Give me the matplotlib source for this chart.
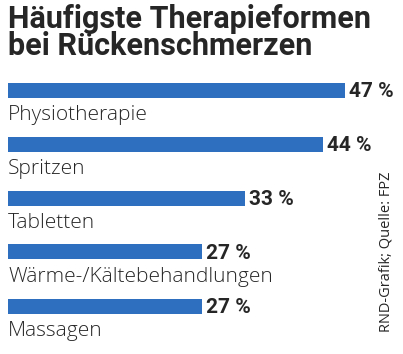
import matplotlib
matplotlib.use("Agg")
import matplotlib.pyplot as plt

categories = ["Physiotherapie", "Spritzen", "Tabletten", "Wärme-/Kältebehandlungen", "Massagen"]
values = [47, 44, 33, 27, 27]
value_labels = ["47 %", "44 %", "33 %", "27 %", "27 %"]
title_lines = ["Häufigste Therapieformen", "bei Rückenschmerzen"]
source = "RND-Grafik; Quelle: FPZ"

W, H = 403, 354
fig = plt.figure(figsize=(W / 100, H / 100), dpi=100)
fig.patch.set_facecolor("white")
ax = fig.add_axes([0, 0, 1, 1])
ax.axis("off")

pxu = 7.17  # pixels per percent
left_px = 8
ax.set_xlim(-left_px / pxu, (W - left_px) / pxu)
top_c, pitch = 90, 54
ax.set_ylim((H - top_c) / pitch, -top_c / pitch)

bar_color = "#2f6fc0"
text_color = "#262626"
ypos = list(range(len(categories)))
ax.barh(ypos, values, height=15 / pitch, color=bar_color, left=0)

for i, (c, v, lab) in enumerate(zip(categories, values, value_labels)):
    ax.text(0, i + 30 / pitch, c, ha="left", va="baseline", fontsize=15,
            family="Open Sans", fontweight="light", color=text_color)
    ax.text(v + 4 / pxu, i + 7 / pitch, lab, ha="left", va="baseline", fontsize=15,
            family="Roboto", fontweight="bold", color=text_color)

fig.text(8 / W, 1 - 28 / H, title_lines[0], ha="left", va="baseline", fontsize=22,
         family="Roboto", fontweight="bold", color=text_color)
fig.text(8 / W, 1 - 55 / H, title_lines[1], ha="left", va="baseline", fontsize=22,
         family="Roboto", fontweight="bold", color=text_color)

fig.text(386 / W, 1 - 252 / H, source, rotation=90, ha="center", va="center",
         fontsize=10.5, family="Open Sans", color=text_color)

fig.savefig("out.png", dpi=100)
